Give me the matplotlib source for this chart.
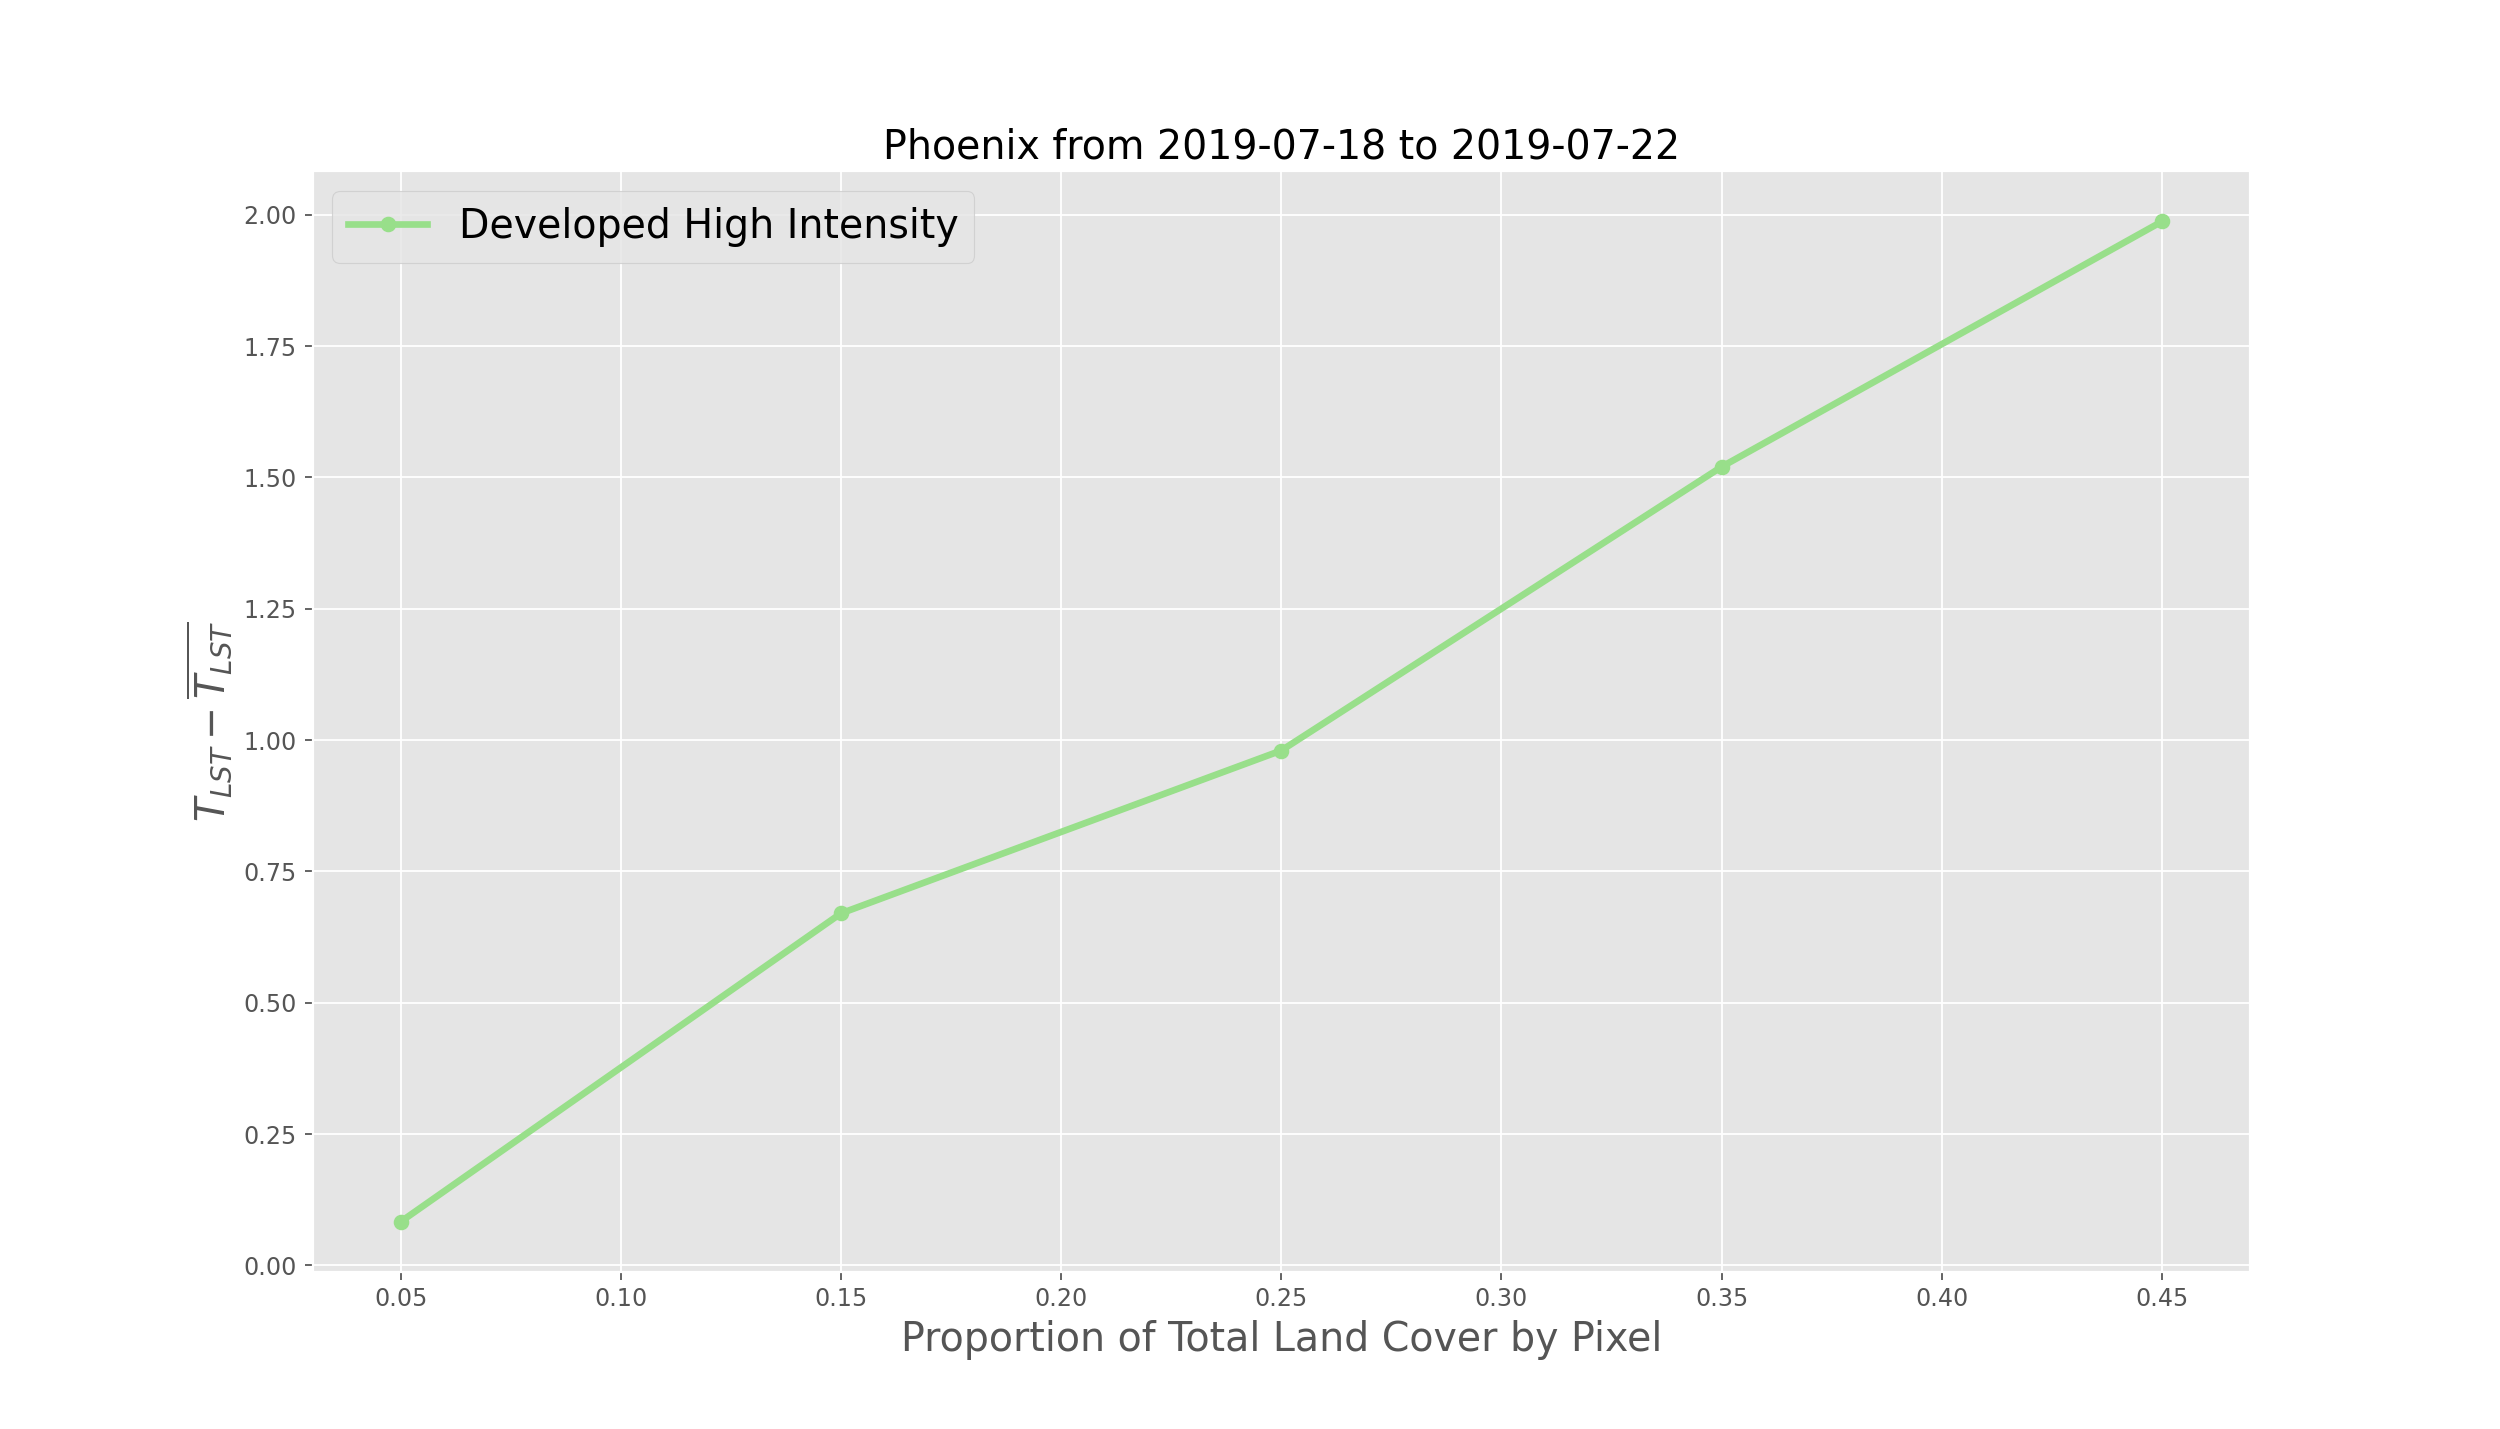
import numpy as np
import matplotlib
matplotlib.use('Agg')
import matplotlib.pyplot as plt

# =============================================================================
#                                   Data
# =============================================================================

a_prop = [0.05, 0.15, 0.25, 0.35, 0.45]
a_dT = [0.083, 0.67, 0.98, 1.52, 1.987]

s_label = 'Developed High Intensity'
s_title = 'Phoenix from 2019-07-18 to 2019-07-22'

# =============================================================================
#                                   Plot
# =============================================================================

plt.style.use('ggplot')
dpi = 160
fs = 17.8
fig = plt.figure(figsize=(2500/dpi, 1429/dpi), dpi=dpi)
ax = fig.add_subplot(111)
ax.plot(a_prop, a_dT, 'o-', color='#98df8a', lw=3, ms=6, label=s_label)
ax.set_title(s_title, fontsize=fs)
ax.set_xlabel('Proportion of Total Land Cover by Pixel', fontsize=fs)
ax.set_ylabel(r'$T_{LST} - \overline{T_{LST}}$', fontsize=fs)
ax.tick_params(labelsize=10.7)
ax.legend(loc='upper left', fontsize=fs)
fig.savefig('out.png', dpi=dpi)
